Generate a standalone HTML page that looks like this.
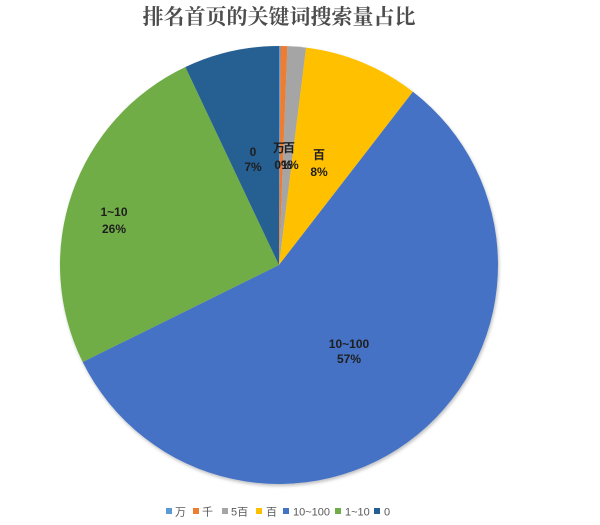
<!DOCTYPE html>
<html>
<head>
<meta charset="utf-8">
<style>
  html,body{margin:0;padding:0;background:#fff;}
  body{width:600px;height:525px;overflow:hidden;position:relative;}
  svg{position:absolute;left:0;top:0;}
</style>
</head>
<body>
<svg width="600" height="525" viewBox="0 0 600 525" xmlns="http://www.w3.org/2000/svg">
  <defs>
    <filter id="sh" x="-10%" y="-10%" width="120%" height="120%">
      <feDropShadow dx="1" dy="2" stdDeviation="1.5" flood-color="#000" flood-opacity="0.25"/>
    </filter>
  </defs>
  <text x="279" y="24" text-anchor="middle" font-family="'Liberation Serif','Noto Serif CJK SC',serif" font-weight="bold" font-size="21" fill="#4d4d4d">排名首页的关键词搜索量占比</text>

  <g filter="url(#sh)">
    <path d="M279 265 L279 46 A219 219 0 0 1 280.53 46 Z" fill="#5B9BD5"/>
    <path d="M279 265 L280.53 46 A219 219 0 0 1 287.41 46.16 Z" fill="#ED7D31"/>
    <path d="M279 265 L287.41 46.16 A219 219 0 0 1 306.07 47.68 Z" fill="#A5A5A5"/>
    <path d="M279 265 L306.07 47.68 A219 219 0 0 1 412.94 91.73 Z" fill="#FFC000"/>
    <path d="M279 265 L412.94 91.73 A219 219 0 1 1 82.67 362.03 Z" fill="#4472C4"/>
    <path d="M279 265 L82.67 362.03 A219 219 0 0 1 185.41 67.01 Z" fill="#70AD47"/>
    <path d="M279 265 L185.41 67.01 A219 219 0 0 1 279 46 Z" fill="#255E91"/>
  </g>

  <g font-family="'Liberation Sans','Noto Sans CJK SC',sans-serif" font-weight="bold" font-size="12" fill="#1e1e1e" text-anchor="middle">
    <text x="349" y="348">10~100</text>
    <text x="349" y="363">57%</text>
    <text x="114" y="216">1~10</text>
    <text x="114" y="233">26%</text>
    <text x="253" y="156">0</text>
    <text x="253" y="171">7%</text>
    <text x="319" y="159">百</text>
    <text x="319" y="176">8%</text>
    <text x="279" y="152">万</text>
    <text x="289" y="152">百</text>
    <text x="283" y="169">0%</text>
    <text x="290" y="169">1%</text>
  </g>

  <g font-family="'Liberation Sans','Noto Sans CJK SC',sans-serif" font-size="11" fill="#595959">
    <rect x="166" y="508" width="6" height="6" fill="#5B9BD5"/>
    <text x="175" y="515.5">万</text>
    <rect x="193" y="508" width="6" height="6" fill="#ED7D31"/>
    <text x="202" y="515.5">千</text>
    <rect x="222" y="508" width="6" height="6" fill="#A5A5A5"/>
    <text x="231" y="515.5">5百</text>
    <rect x="256" y="508" width="6" height="6" fill="#FFC000"/>
    <text x="266" y="515.5">百</text>
    <rect x="283" y="508" width="6" height="6" fill="#4472C4"/>
    <text x="293" y="515.5">10~100</text>
    <rect x="335" y="508" width="6" height="6" fill="#70AD47"/>
    <text x="345" y="515.5">1~10</text>
    <rect x="374" y="508" width="6" height="6" fill="#255E91"/>
    <text x="384" y="515.5">0</text>
  </g>
</svg>
</body>
</html>
